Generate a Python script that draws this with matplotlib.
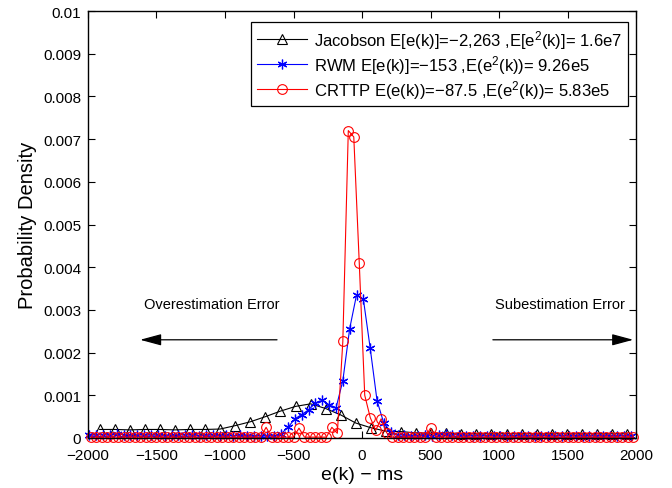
import numpy as np
import matplotlib
matplotlib.use('Agg')
import matplotlib.pyplot as plt

plt.rcParams['font.family'] = ['Liberation Sans', 'DejaVu Sans']
plt.rcParams['mathtext.fontset'] = 'custom'
plt.rcParams['mathtext.rm'] = 'Liberation Sans'
plt.rcParams['mathtext.it'] = 'Liberation Sans'

# histogram bin centres (ms) of the three estimators
jac_x = np.arange(-1915, 1936, 110)   # 36 bins
rwm_x = np.arange(-1990, 1961, 50)    # 80 bins
crt_x = np.arange(-1980, 1981, 40)    # 100 bins

# probability density
jac_y = [0.00020, 0.00020, 0.00019, 0.00020, 0.00020, 0.00019, 0.00020, 0.00020, 0.00021,
         0.00029, 0.00038, 0.00050, 0.00063, 0.00074, 0.00080, 0.00069, 0.00054, 0.00035,
         0.00024, 0.00016, 0.00015, 0.00012, 0.00011, 0.00011, 0.00010, 0.00010, 0.00010,
         0.00010, 0.00010, 0.00010, 0.00010, 0.00010, 0.00010, 0.00010, 0.00010, 0.00010]

rwm_y = [0.00006, 0.00007, 0.00008, 0.00006, 0.00010, 0.00007, 0.00006, 0.00008, 0.00006, 0.00007,
         0.00006, 0.00005, 0.00007, 0.00006, 0.00008, 0.00006, 0.00005, 0.00006, 0.00007, 0.00005,
         0.00006, 0.00005, 0.00006, 0.00005, 0.00004, 0.00005, 0.00004, 0.00005, 0.00010, 0.00025,
         0.00045, 0.00055, 0.00066, 0.00082, 0.00088, 0.00078, 0.00070, 0.00134, 0.00256, 0.00335,
         0.00325, 0.00210, 0.00087, 0.00034, 0.00015, 0.00008, 0.00006, 0.00005, 0.00005, 0.00006,
         0.00005, 0.00008, 0.00010, 0.00008, 0.00006, 0.00005, 0.00005, 0.00004, 0.00005, 0.00005,
         0.00004, 0.00005, 0.00005, 0.00004, 0.00005, 0.00004, 0.00005, 0.00005, 0.00004, 0.00005,
         0.00004, 0.00005, 0.00004, 0.00005, 0.00004, 0.00005, 0.00004, 0.00004, 0.00005, 0.00004]

crt_y = [0.00002, 0.00002, 0.00002, 0.00002, 0.00002, 0.00002, 0.00002, 0.00002, 0.00002, 0.00002,
         0.00002, 0.00002, 0.00002, 0.00002, 0.00002, 0.00002, 0.00002, 0.00002, 0.00002, 0.00002,
         0.00002, 0.00002, 0.00002, 0.00002, 0.00002, 0.00002, 0.00002, 0.00002, 0.00002, 0.00002,
         0.00002, 0.00002, 0.00025, 0.00002, 0.00002, 0.00002, 0.00002, 0.00002, 0.00023, 0.00002,
         0.00002, 0.00002, 0.00002, 0.00002, 0.00025, 0.00011, 0.00226, 0.00720, 0.00705, 0.00410,
         0.00100, 0.00048, 0.00018, 0.00045, 0.00012, 0.00002, 0.00002, 0.00002, 0.00002, 0.00002,
         0.00002, 0.00002, 0.00023, 0.00002, 0.00002, 0.00002, 0.00002, 0.00002, 0.00002, 0.00002,
         0.00002, 0.00002, 0.00002, 0.00002, 0.00002, 0.00002, 0.00002, 0.00002, 0.00002, 0.00002,
         0.00002, 0.00002, 0.00002, 0.00002, 0.00002, 0.00002, 0.00002, 0.00002, 0.00002, 0.00002,
         0.00002, 0.00002, 0.00002, 0.00002, 0.00002, 0.00002, 0.00002, 0.00002, 0.00002, 0.00002]

labels = ['Jacobson E[e(k)]=\u22122,263 ,E[e$^2$(k)]= 1.6e7',
          'RWM E[e(k)]=\u2212153 ,E(e$^2$(k))= 9.26e5',
          'CRTTP E(e(k))=\u221287.5 ,E(e$^2$(k))= 5.83e5']

fig = plt.figure(figsize=(6.72, 4.89), dpi=100)
ax = fig.add_axes([88 / 672, 50 / 489, 548 / 672, 427 / 489])

ax.plot(jac_x, jac_y, color='k', lw=0.8, marker='^', ms=7, mfc='none', mew=0.8,
        clip_on=False, label=labels[0])
ax.plot(rwm_x, rwm_y, color='b', lw=0.8, marker=(6, 2, 0), ms=7, mew=0.9,
        clip_on=False, label=labels[1])
ax.plot(crt_x, crt_y, color='r', lw=0.8, marker='o', ms=7, mfc='none', mew=0.8,
        clip_on=False, label=labels[2])

ax.set_xlim(-2000, 2000)
ax.set_ylim(0, 0.01)
ax.set_xticks(np.arange(-2000, 2001, 500))
ax.set_yticks(np.arange(0, 0.0101, 0.001))
ax.set_yticklabels(['0', '0.001', '0.002', '0.003', '0.004', '0.005',
                    '0.006', '0.007', '0.008', '0.009', '0.01'])
ax.tick_params(direction='in', top=True, right=True, length=5, width=0.8, labelsize=11)
ax.tick_params(axis='x', pad=7)
ax.tick_params(axis='y', pad=5)
for s in ax.spines.values():
    s.set_linewidth(1.0)

ax.set_xlabel('e(k) \u2212 ms', fontsize=14, labelpad=3)
ax.set_ylabel('Probability Density', fontsize=14.5, labelpad=4)

ax.text(-1095, 0.00314, 'Overestimation Error', fontsize=10.5, ha='center', va='center')
ax.text(1445, 0.00314, 'Subestimation Error', fontsize=10.5, ha='center', va='center')
ax.annotate('', xy=(-1640, 0.00230), xytext=(-600, 0.00230),
            arrowprops=dict(arrowstyle='-|>,head_length=1.3,head_width=0.35', color='k', lw=0.9))
ax.annotate('', xy=(2000, 0.00230), xytext=(935, 0.00230),
            arrowprops=dict(arrowstyle='-|>,head_length=1.3,head_width=0.35', color='k', lw=0.9))

leg = ax.legend(loc='upper right', bbox_to_anchor=(628 / 672, 1 - 23 / 489),
                bbox_transform=fig.transFigure, borderaxespad=0, fontsize=12,
                fancybox=False, edgecolor='k', framealpha=1, handlelength=3.0,
                labelspacing=0.12, borderpad=0.35, handletextpad=0.45)
leg.get_frame().set_linewidth(0.9)

fig.savefig('out.png', dpi=100)
